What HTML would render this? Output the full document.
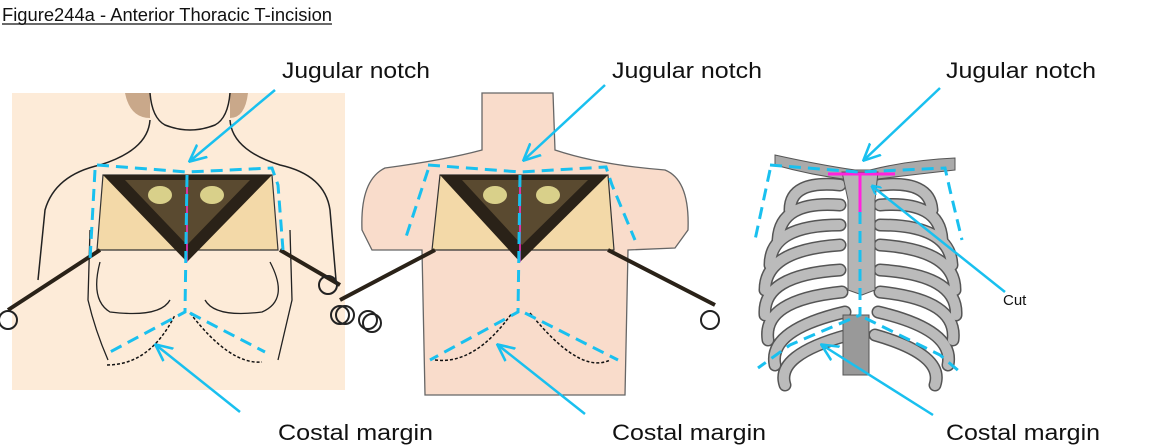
<!DOCTYPE html>
<html><head><meta charset="utf-8"><style>
html,body{margin:0;padding:0;background:#fff;}
svg{display:block;}
text{font-family:"Liberation Sans",Arial,sans-serif;}
</style></head><body>
<svg width="1153" height="446" viewBox="0 0 1153 446" xmlns="http://www.w3.org/2000/svg">
<defs>
<marker id="ah" markerWidth="10" markerHeight="10" refX="9" refY="5" orient="auto" markerUnits="userSpaceOnUse" viewBox="0 0 10 10">
<path d="M0,0 L10,5 L0,10" fill="none" stroke="#19c0ef" stroke-width="2.2"/>
</marker>
<marker id="ah2" markerWidth="18" markerHeight="18" refX="16" refY="9" orient="auto" markerUnits="userSpaceOnUse" viewBox="0 0 18 18">
<path d="M0,1 L17,9 L0,17" fill="none" stroke="#19c0ef" stroke-width="2.6"/>
</marker>
</defs>
<rect width="1153" height="446" fill="#fff"/>
<text x="2" y="21" font-size="18" textLength="330" lengthAdjust="spacingAndGlyphs" fill="#111">Figure244a - Anterior Thoracic T-incision</text>
<line x1="2" y1="24" x2="332" y2="24" stroke="#111" stroke-width="1.2"/>

<!-- LEFT FIGURE -->
<path d="M12,93 L345,93 L345,390 L12,390 Z" fill="#fdebd8"/>
<path d="M125,93 Q130,118 150,118 L150,93 Z M230,93 L230,118 Q245,118 248,93 Z" fill="#c9a88a"/>
<path d="M150,93 Q152,118 165,125 Q190,135 215,125 Q228,118 230,93" fill="none" stroke="#222" stroke-width="1.5"/>
<path d="M150,120 Q148,150 100,165 Q55,175 45,210 L38,280 M230,120 Q232,150 280,165 Q325,175 330,210 L336,280" fill="none" stroke="#222" stroke-width="1.5"/>
<path d="M90,230 L88,300 Q95,330 108,360 M290,230 L292,300 Q285,330 278,360 M100,262 Q90,300 110,312 Q160,318 170,300 M270,262 Q290,300 262,312 Q215,318 205,300" fill="none" stroke="#222" stroke-width="1.3"/>
<polygon points="103,175 272,175 278,250 97,250" fill="#f3d9a8" stroke="#333" stroke-width="1.2"/>
<polygon points="103,175 272,175 187,262" fill="#2a2218"/>
<polygon points="125,180 250,180 187,245" fill="#5a4a30"/>
<ellipse cx="160" cy="195" rx="12" ry="9" fill="#d9d08a"/><ellipse cx="212" cy="195" rx="12" ry="9" fill="#d9d08a"/>
<line x1="187" y1="175" x2="187" y2="262" stroke="#ff33cc" stroke-width="1.5"/>
<path d="M100,250 L8,310 M280,250 L340,285" stroke="#2a2218" stroke-width="4"/>
<circle cx="8" cy="320" r="9" fill="none" stroke="#222" stroke-width="2"/>
<circle cx="328" cy="285" r="9" fill="none" stroke="#222" stroke-width="2"/><circle cx="340" cy="315" r="9" fill="none" stroke="#222" stroke-width="2"/><circle cx="368" cy="320" r="9" fill="none" stroke="#222" stroke-width="2"/>
<path d="M107,365 Q150,365 175,315 M190,313 Q230,365 262,362" fill="none" stroke="#111" stroke-width="1.5" stroke-dasharray="3,2"/>
<g fill="none" stroke="#19c0ef" stroke-width="3" stroke-dasharray="12,7">
<path d="M97,165 L187,172 L272,168 L278,185 L283,250 M95,170 L90,260 M187,175 L185,312 L110,352 M190,313 L265,352"/>
</g>
<line x1="275" y1="90" x2="190" y2="161" stroke="#19c0ef" stroke-width="2.5" marker-end="url(#ah2)"/>
<line x1="240" y1="412" x2="156" y2="345" stroke="#19c0ef" stroke-width="2.5" marker-end="url(#ah2)"/>
<text x="282" y="78" font-size="22" textLength="148" lengthAdjust="spacingAndGlyphs" fill="#111">Jugular notch</text>
<text x="278" y="440" font-size="22" textLength="155" lengthAdjust="spacingAndGlyphs" fill="#111">Costal margin</text>

<!-- MIDDLE FIGURE -->
<path d="M482,93 L553,93 L555,150 Q600,165 665,170 Q690,180 688,230 L675,248 L628,250 L625,395 L425,395 L422,250 L372,250 L362,230 Q360,180 385,168 Q445,160 482,150 Z" fill="#f9dccb" stroke="#666" stroke-width="1.3"/>
<polygon points="440,175 608,175 614,250 432,250" fill="#f3d9a8" stroke="#333" stroke-width="1.2"/>
<polygon points="440,175 608,175 520,262" fill="#2a2218"/>
<polygon points="462,180 588,180 522,245" fill="#5a4a30"/>
<ellipse cx="495" cy="195" rx="12" ry="9" fill="#d9d08a"/><ellipse cx="548" cy="195" rx="12" ry="9" fill="#d9d08a"/>
<line x1="520" y1="175" x2="520" y2="262" stroke="#ff33cc" stroke-width="1.5"/>
<path d="M435,250 L340,300 M608,250 L715,305" stroke="#2a2218" stroke-width="4"/>
<circle cx="345" cy="315" r="9" fill="none" stroke="#222" stroke-width="2"/><circle cx="372" cy="323" r="9" fill="none" stroke="#222" stroke-width="2"/>
<circle cx="710" cy="320" r="9" fill="none" stroke="#222" stroke-width="2"/>
<path d="M435,360 Q475,365 512,313 M530,313 Q580,375 610,360" fill="none" stroke="#111" stroke-width="1.5" stroke-dasharray="3,2"/>
<g fill="none" stroke="#19c0ef" stroke-width="3" stroke-dasharray="12,7">
<path d="M428,165 L520,172 L606,167 L612,185 L635,240 M428,170 L405,240 M520,175 L518,312 L430,360 M525,313 L618,360"/>
</g>
<line x1="605" y1="85" x2="524" y2="160" stroke="#19c0ef" stroke-width="2.5" marker-end="url(#ah2)"/>
<line x1="585" y1="414" x2="498" y2="345" stroke="#19c0ef" stroke-width="2.5" marker-end="url(#ah2)"/>
<text x="612" y="78" font-size="22" textLength="150" lengthAdjust="spacingAndGlyphs" fill="#111">Jugular notch</text>
<text x="612" y="440" font-size="22" textLength="154" lengthAdjust="spacingAndGlyphs" fill="#111">Costal margin</text>

<!-- RIGHT FIGURE (rib cage) -->
<path d="M775,155 Q820,165 855,170 L870,170 Q910,160 955,158 L955,170 Q910,175 870,180 L850,180 Q810,175 775,165 Z" fill="#aaa" stroke="#555"/>
<g fill="none" stroke="#555" stroke-width="13" stroke-linecap="round">
<path d="M840,185 Q790,180 790,210 M880,185 Q930,180 932,210"/>
<path d="M840,205 Q780,200 778,240 M880,205 Q940,200 942,240"/>
<path d="M840,225 Q770,225 770,265 M880,225 Q950,225 952,265"/>
<path d="M840,245 Q765,250 765,290 M880,245 Q955,250 955,290"/>
<path d="M840,270 Q762,275 765,315 M880,270 Q958,275 956,315"/>
<path d="M842,292 Q762,300 768,340 M880,292 Q958,300 953,340"/>
<path d="M845,312 Q768,330 775,365 M878,312 Q955,330 948,365"/>
<path d="M848,335 Q775,355 785,385 M875,335 Q945,355 935,385"/>
</g>
<g fill="none" stroke="#bbb" stroke-width="10" stroke-linecap="round">
<path d="M840,185 Q790,180 790,210 M880,185 Q930,180 932,210"/>
<path d="M840,205 Q780,200 778,240 M880,205 Q940,200 942,240"/>
<path d="M840,225 Q770,225 770,265 M880,225 Q950,225 952,265"/>
<path d="M840,245 Q765,250 765,290 M880,245 Q955,250 955,290"/>
<path d="M840,270 Q762,275 765,315 M880,270 Q958,275 956,315"/>
<path d="M842,292 Q762,300 768,340 M880,292 Q958,300 953,340"/>
<path d="M845,312 Q768,330 775,365 M878,312 Q955,330 948,365"/>
<path d="M848,335 Q775,355 785,385 M875,335 Q945,355 935,385"/>
</g>
<path d="M842,172 L878,172 L875,200 L875,290 L862,295 L848,290 L848,200 Z" fill="#b5b5b5" stroke="#555"/>
<rect x="843" y="315" width="26" height="60" fill="#999" stroke="#555"/>
<line x1="828" y1="174" x2="895" y2="174" stroke="#ff22dd" stroke-width="3"/>
<line x1="860" y1="174" x2="860" y2="212" stroke="#ff22dd" stroke-width="3"/>
<g fill="none" stroke="#19c0ef" stroke-width="3" stroke-dasharray="12,7">
<path d="M770,165 L858,172 L945,168 L950,190 L962,240 M770,170 L755,240 M860,212 L860,315 L790,345 L758,368 M865,318 L940,355 L960,372"/>
</g>
<line x1="940" y1="88" x2="864" y2="160" stroke="#19c0ef" stroke-width="2.5" marker-end="url(#ah2)"/>
<line x1="1005" y1="292" x2="872" y2="186" stroke="#19c0ef" stroke-width="2.5" marker-end="url(#ah)"/>
<line x1="933" y1="415" x2="822" y2="345" stroke="#19c0ef" stroke-width="2.5" marker-end="url(#ah2)"/>
<text x="946" y="78" font-size="22" textLength="150" lengthAdjust="spacingAndGlyphs" fill="#111">Jugular notch</text>
<text x="1003" y="305" font-size="15" fill="#111">Cut</text>
<text x="946" y="440" font-size="22" textLength="154" lengthAdjust="spacingAndGlyphs" fill="#111">Costal margin</text>
</svg>
</body></html>
